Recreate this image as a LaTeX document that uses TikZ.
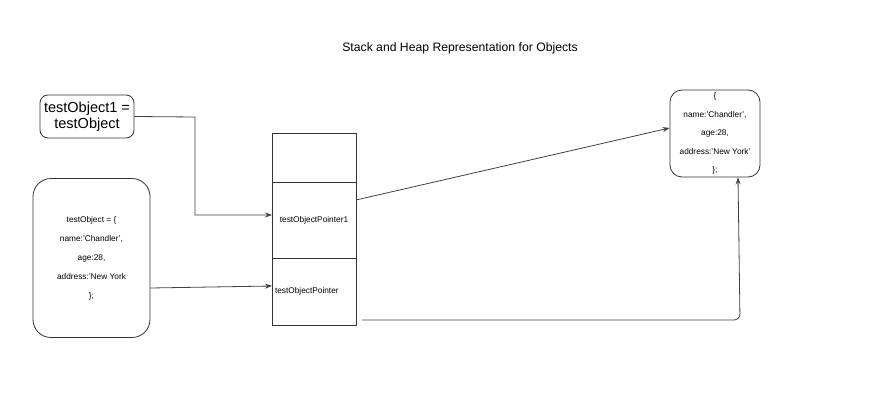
\documentclass[tikz,border=0pt]{standalone}
\usepackage{fontspec}
\setmainfont{Liberation Sans}
\usetikzlibrary{positioning,arrows.meta}

\tikzset{
  box/.style={draw=black!80, line width=0.8pt, rounded corners=8pt, inner sep=2pt, align=center},
  cell/.style={draw=black!80, line width=0.7pt, minimum width=84pt, inner sep=0pt, outer sep=0pt},
  small/.style={font=\fontsize{8.3}{19}\selectfont},
  link/.style={draw=black!75, line width=0.8pt, -{Stealth[length=7pt,width=5pt]}}
}

\begin{document}
\begin{tikzpicture}[x=1pt,y=-1pt]
      \useasboundingbox (0,0) rectangle (880,404);

      \node[font=\fontsize{12.2}{14}\selectfont] (title) at (460,48) {Stack and Heap Representation for Objects};

      % stack side
      \node[box, minimum width=94pt, minimum height=43pt, font=\fontsize{14.5}{16}\selectfont] (assign) at (87,116.5) {testObject1 =\\testObject};
      \node[box, rounded corners=18pt, minimum width=117pt, minimum height=159pt, small] (literal) at (91.5,258)
        {testObject = \{\\name:'Chandler',\\age:28,\\address:'New York\\\};};

      \node[cell, minimum height=49pt] (topcell) at (314,157.5) {};
      \node[cell, minimum height=76pt, below=0pt of topcell, small] (ptrone) {testObjectPointer1};
      \node[cell, minimum height=67pt, below=0pt of ptrone, small, text width=78pt, align=left, inner xsep=3pt] (ptr) {testObjectPointer};

      % heap side
      \node[box, rounded corners=12pt, minimum width=90pt, minimum height=87pt, font=\fontsize{8.3}{18.5}\selectfont] (heap) at (715,133.5)
        {\{\\name:'Chandler',\\age:28,\\address:'New York'\\\};};

      % pointers
      \coordinate (bend) at (195,117);
      \coordinate (ptrend) at (362,320);
      \draw[link] (assign.east) -- (bend) -- (bend |- 0,215) -- (ptrone.west |- 0,215);
      \draw[link] (literal.east |- 0,288) -- (ptr.west |- 0,286);
      \draw[link] (ptrone.east |- 0,200) -- (heap.west |- 0,128);
      \draw[link, rounded corners=6pt] (ptrend) -- (740,320) -- (heap.south -| 738,0);
    \end{tikzpicture}
\end{document}
